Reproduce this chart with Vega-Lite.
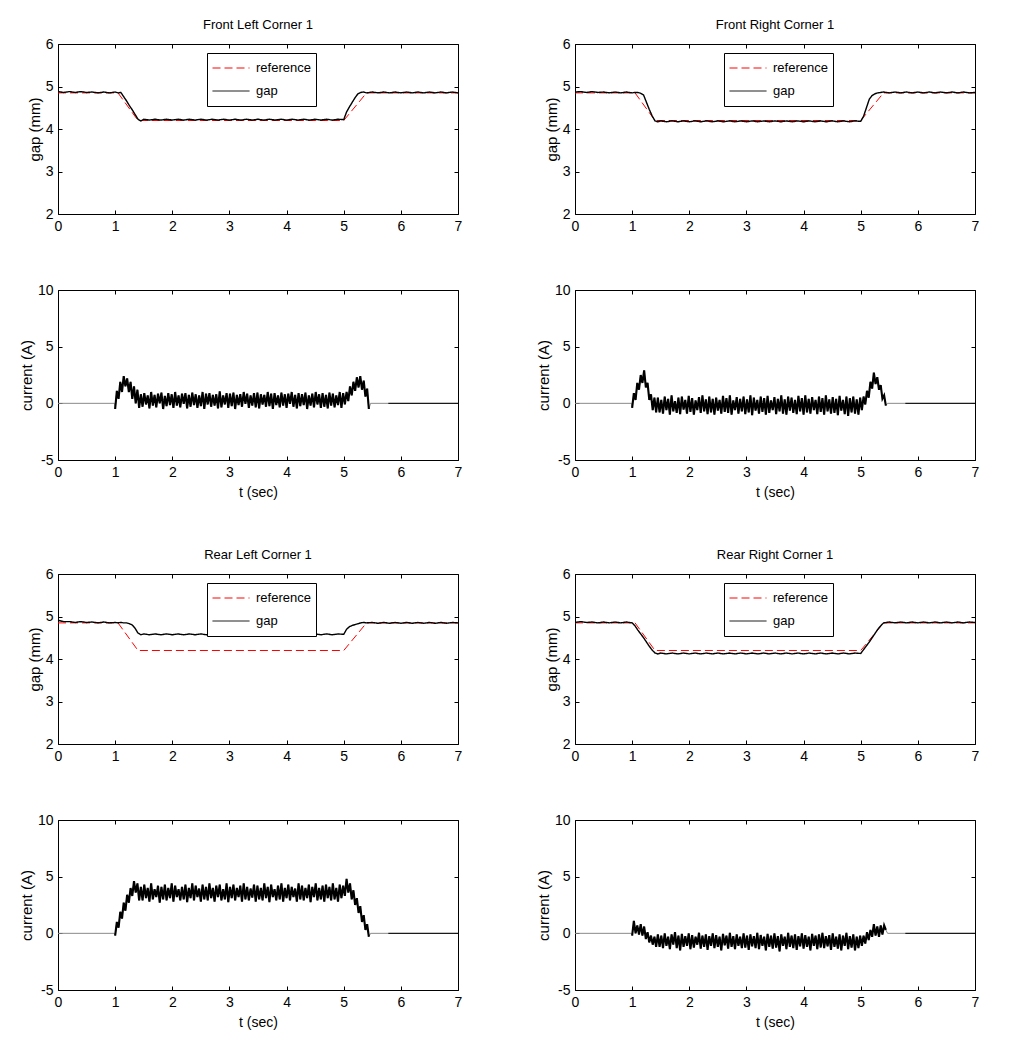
{
"$schema": "https://vega.github.io/schema/vega-lite/v6.json",
"padding": {"left": 18, "top": 18, "right": 5, "bottom": 5},
"columns": 2,
"spacing": {"row": 48, "column": 72},
"align": "each",
"resolve": {"scale": {"color": "independent", "strokeDash": "independent"}},
"datasets": {
"ref": [{"t":0,"r":4.85},{"t":1.05,"r":4.85},{"t":1.4,"r":4.2},{"t":5.0,"r":4.2},{"t":5.4,"r":4.85},{"t":7,"r":4.85}],
"gap": [
{"t":0,"FL":4.88,"FR":4.87,"RL":4.91,"RR":4.86},
{"t":0.1,"FL":4.86,"FR":4.88,"RL":4.88,"RR":4.88},
{"t":0.2,"FL":4.88,"FR":4.86,"RL":4.88,"RR":4.86},
{"t":0.3,"FL":4.86,"FR":4.88,"RL":4.86,"RR":4.87},
{"t":0.4,"FL":4.88,"FR":4.86,"RL":4.88,"RR":4.85},
{"t":0.5,"FL":4.86,"FR":4.87,"RL":4.86,"RR":4.87},
{"t":0.6,"FL":4.87,"FR":4.85,"RL":4.87,"RR":4.85},
{"t":0.7,"FL":4.85,"FR":4.87,"RL":4.85,"RR":4.87},
{"t":0.8,"FL":4.87,"FR":4.85,"RL":4.87,"RR":4.85},
{"t":0.9,"FL":4.85,"FR":4.87,"RL":4.85,"RR":4.87},
{"t":1.0,"FL":4.87,"FR":4.85,"RL":4.86,"RR":4.85},
{"t":1.05,"FL":4.85,"FR":4.86,"RL":4.85,"RR":4.78},
{"t":1.1,"FL":4.86,"FR":4.86,"RL":4.86,"RR":4.68},
{"t":1.15,"FL":4.76,"FR":4.84,"RL":4.85,"RR":4.59},
{"t":1.2,"FL":4.66,"FR":4.8,"RL":4.85,"RR":4.5},
{"t":1.25,"FL":4.55,"FR":4.63,"RL":4.83,"RR":4.4},
{"t":1.3,"FL":4.45,"FR":4.46,"RL":4.8,"RR":4.3},
{"t":1.35,"FL":4.34,"FR":4.31,"RL":4.72,"RR":4.21},
{"t":1.4,"FL":4.23,"FR":4.19,"RL":4.61,"RR":4.14},
{"t":1.45,"FL":4.19,"FR":4.17,"RL":4.57,"RR":4.12},
{"t":1.5,"FL":4.23,"FR":4.19,"RL":4.59,"RR":4.14},
{"t":1.6,"FL":4.21,"FR":4.17,"RL":4.57,"RR":4.12},
{"t":1.7,"FL":4.23,"FR":4.19,"RL":4.59,"RR":4.14},
{"t":1.8,"FL":4.21,"FR":4.17,"RL":4.57,"RR":4.12},
{"t":1.9,"FL":4.23,"FR":4.19,"RL":4.59,"RR":4.14},
{"t":2.0,"FL":4.21,"FR":4.17,"RL":4.57,"RR":4.12},
{"t":2.1,"FL":4.23,"FR":4.19,"RL":4.59,"RR":4.14},
{"t":2.2,"FL":4.21,"FR":4.17,"RL":4.57,"RR":4.12},
{"t":2.3,"FL":4.23,"FR":4.19,"RL":4.59,"RR":4.14},
{"t":2.4,"FL":4.21,"FR":4.17,"RL":4.57,"RR":4.12},
{"t":2.5,"FL":4.23,"FR":4.19,"RL":4.59,"RR":4.14},
{"t":2.6,"FL":4.21,"FR":4.17,"RL":4.57,"RR":4.12},
{"t":2.7,"FL":4.23,"FR":4.19,"RL":4.59,"RR":4.14},
{"t":2.8,"FL":4.21,"FR":4.17,"RL":4.57,"RR":4.12},
{"t":2.9,"FL":4.23,"FR":4.19,"RL":4.59,"RR":4.14},
{"t":3.0,"FL":4.21,"FR":4.17,"RL":4.57,"RR":4.12},
{"t":3.1,"FL":4.23,"FR":4.19,"RL":4.59,"RR":4.14},
{"t":3.2,"FL":4.21,"FR":4.17,"RL":4.57,"RR":4.12},
{"t":3.3,"FL":4.23,"FR":4.19,"RL":4.59,"RR":4.14},
{"t":3.4,"FL":4.21,"FR":4.17,"RL":4.57,"RR":4.12},
{"t":3.5,"FL":4.23,"FR":4.19,"RL":4.59,"RR":4.14},
{"t":3.6,"FL":4.21,"FR":4.17,"RL":4.57,"RR":4.12},
{"t":3.7,"FL":4.23,"FR":4.19,"RL":4.59,"RR":4.14},
{"t":3.8,"FL":4.21,"FR":4.17,"RL":4.57,"RR":4.12},
{"t":3.9,"FL":4.23,"FR":4.19,"RL":4.59,"RR":4.14},
{"t":4.0,"FL":4.21,"FR":4.17,"RL":4.57,"RR":4.12},
{"t":4.1,"FL":4.23,"FR":4.19,"RL":4.59,"RR":4.14},
{"t":4.2,"FL":4.21,"FR":4.17,"RL":4.57,"RR":4.12},
{"t":4.3,"FL":4.23,"FR":4.19,"RL":4.59,"RR":4.14},
{"t":4.4,"FL":4.21,"FR":4.17,"RL":4.57,"RR":4.12},
{"t":4.5,"FL":4.23,"FR":4.19,"RL":4.59,"RR":4.14},
{"t":4.6,"FL":4.21,"FR":4.17,"RL":4.57,"RR":4.12},
{"t":4.7,"FL":4.23,"FR":4.19,"RL":4.59,"RR":4.14},
{"t":4.8,"FL":4.21,"FR":4.17,"RL":4.57,"RR":4.12},
{"t":4.9,"FL":4.23,"FR":4.19,"RL":4.59,"RR":4.14},
{"t":5.0,"FL":4.22,"FR":4.18,"RL":4.58,"RR":4.13},
{"t":5.05,"FL":4.4,"FR":4.3,"RL":4.7,"RR":4.22},
{"t":5.1,"FL":4.52,"FR":4.5,"RL":4.76,"RR":4.31},
{"t":5.15,"FL":4.63,"FR":4.7,"RL":4.79,"RR":4.4},
{"t":5.2,"FL":4.74,"FR":4.79,"RL":4.81,"RR":4.5},
{"t":5.25,"FL":4.83,"FR":4.83,"RL":4.83,"RR":4.6},
{"t":5.3,"FL":4.86,"FR":4.85,"RL":4.85,"RR":4.7},
{"t":5.35,"FL":4.87,"FR":4.86,"RL":4.86,"RR":4.78},
{"t":5.4,"FL":4.85,"FR":4.87,"RL":4.85,"RR":4.85},
{"t":5.5,"FL":4.87,"FR":4.85,"RL":4.86,"RR":4.87},
{"t":5.6,"FL":4.85,"FR":4.87,"RL":4.84,"RR":4.85},
{"t":5.7,"FL":4.87,"FR":4.85,"RL":4.86,"RR":4.87},
{"t":5.8,"FL":4.85,"FR":4.87,"RL":4.84,"RR":4.85},
{"t":5.9,"FL":4.87,"FR":4.85,"RL":4.86,"RR":4.87},
{"t":6.0,"FL":4.85,"FR":4.87,"RL":4.84,"RR":4.85},
{"t":6.1,"FL":4.87,"FR":4.85,"RL":4.86,"RR":4.87},
{"t":6.2,"FL":4.85,"FR":4.87,"RL":4.84,"RR":4.85},
{"t":6.3,"FL":4.87,"FR":4.85,"RL":4.86,"RR":4.87},
{"t":6.4,"FL":4.85,"FR":4.87,"RL":4.84,"RR":4.85},
{"t":6.5,"FL":4.87,"FR":4.85,"RL":4.86,"RR":4.87},
{"t":6.6,"FL":4.85,"FR":4.87,"RL":4.84,"RR":4.85},
{"t":6.7,"FL":4.87,"FR":4.85,"RL":4.86,"RR":4.87},
{"t":6.8,"FL":4.85,"FR":4.87,"RL":4.84,"RR":4.85},
{"t":6.9,"FL":4.87,"FR":4.85,"RL":4.86,"RR":4.87},
{"t":7.0,"FL":4.85,"FR":4.86,"RL":4.85,"RR":4.86}
],
"cur": [
{"t":0,"FL":0,"FR":0,"RL":0,"RR":0},
{"t":0.99,"FL":0,"FR":0,"RL":0,"RR":0},
{"t":1.0,"FL":-0.5,"FR":-0.4,"RL":-0.2,"RR":-0.2},
{"t":1.03,"FL":1.1,"FR":0.9,"RL":1.0,"RR":1.1},
{"t":1.06,"FL":0.4,"FR":0.3,"RL":0.5,"RR":0.0},
{"t":1.09,"FL":1.9,"FR":1.8,"RL":1.9,"RR":0.7},
{"t":1.12,"FL":1.0,"FR":1.2,"RL":1.3,"RR":-0.1},
{"t":1.15,"FL":2.4,"FR":2.5,"RL":2.7,"RR":0.8},
{"t":1.18,"FL":1.5,"FR":1.8,"RL":2.0,"RR":-0.2},
{"t":1.21,"FL":2.2,"FR":2.9,"RL":3.4,"RR":0.6},
{"t":1.24,"FL":1.0,"FR":1.4,"RL":2.7,"RR":-0.5},
{"t":1.27,"FL":1.9,"FR":1.8,"RL":4.0,"RR":0.1},
{"t":1.3,"FL":0.4,"FR":0.3,"RL":3.3,"RR":-0.8},
{"t":1.33,"FL":1.5,"FR":0.8,"RL":4.6,"RR":-0.2},
{"t":1.36,"FL":0.0,"FR":-0.6,"RL":3.6,"RR":-1.0},
{"t":1.39,"FL":1.2,"FR":0.5,"RL":4.4,"RR":-0.3},
{"t":1.42,"FL":-0.4,"FR":-0.8,"RL":2.9,"RR":-1.2},
{"t":1.45,"FL":0.8,"FR":0.5,"RL":4.1,"RR":-0.1},
{"t":1.48,"FL":-0.3,"FR":-0.8,"RL":2.9,"RR":-1.2},
{"t":1.51,"FL":0.9,"FR":0.3,"RL":4.3,"RR":-0.2},
{"t":1.54,"FL":-0.1,"FR":-0.9,"RL":3.1,"RR":-1.3},
{"t":1.57,"FL":0.7,"FR":0.6,"RL":4.0,"RR":0.0},
{"t":1.6,"FL":-0.45,"FR":-0.6,"RL":2.8,"RR":-1.1},
{"t":1.63,"FL":1.0,"FR":0.4,"RL":4.4,"RR":-0.3},
{"t":1.66,"FL":-0.2,"FR":-1.0,"RL":3.0,"RR":-1.4},
{"t":1.69,"FL":0.75,"FR":0.7,"RL":3.9,"RR":-0.1},
{"t":1.72,"FL":-0.35,"FR":-0.7,"RL":3.2,"RR":-1.0},
{"t":1.75,"FL":0.85,"FR":0.2,"RL":4.2,"RR":0.1},
{"t":1.78,"FL":0.0,"FR":-0.85,"RL":2.7,"RR":-1.3},
{"t":1.81,"FL":0.95,"FR":0.5,"RL":4.1,"RR":-0.2},
{"t":1.84,"FL":-0.5,"FR":-0.95,"RL":3.0,"RR":-1.5},
{"t":1.87,"FL":0.65,"FR":0.6,"RL":4.3,"RR":-0.05},
{"t":1.9,"FL":-0.25,"FR":-0.55,"RL":2.9,"RR":-1.2},
{"t":1.93,"FL":0.9,"FR":0.3,"RL":4.0,"RR":-0.25},
{"t":1.96,"FL":-0.15,"FR":-0.9,"RL":3.1,"RR":-1.1},
{"t":1.99,"FL":0.8,"FR":0.65,"RL":4.4,"RR":0.0},
{"t":2.02,"FL":-0.4,"FR":-0.75,"RL":2.8,"RR":-1.4},
{"t":2.05,"FL":1.0,"FR":0.45,"RL":4.2,"RR":-0.15},
{"t":2.08,"FL":-0.2,"FR":-1.0,"RL":3.2,"RR":-1.25},
{"t":2.11,"FL":0.7,"FR":0.25,"RL":3.9,"RR":-0.3},
{"t":2.14,"FL":-0.35,"FR":-0.6,"RL":2.9,"RR":-1.0},
{"t":2.17,"FL":0.85,"FR":0.55,"RL":4.1,"RR":0.05},
{"t":2.2,"FL":-0.05,"FR":-0.85,"RL":3.0,"RR":-1.35},
{"t":2.23,"FL":0.9,"FR":0.7,"RL":4.3,"RR":-0.2},
{"t":2.26,"FL":-0.45,"FR":-0.7,"RL":2.75,"RR":-1.2},
{"t":2.29,"FL":0.75,"FR":0.35,"RL":4.0,"RR":-0.1},
{"t":2.32,"FL":-0.3,"FR":-0.95,"RL":3.1,"RR":-1.45},
{"t":2.35,"FL":0.95,"FR":0.6,"RL":4.4,"RR":-0.25},
{"t":2.38,"FL":-0.15,"FR":-0.8,"RL":2.9,"RR":-1.1},
{"t":2.41,"FL":0.8,"FR":0.4,"RL":4.2,"RR":0.0},
{"t":2.44,"FL":-0.4,"FR":-1.0,"RL":3.2,"RR":-1.3},
{"t":2.47,"FL":0.7,"FR":0.5,"RL":3.95,"RR":-0.15},
{"t":2.5,"FL":-0.25,"FR":-0.65,"RL":2.8,"RR":-1.2},
{"t":2.53,"FL":1.0,"FR":0.3,"RL":4.3,"RR":-0.3},
{"t":2.56,"FL":-0.5,"FR":-0.9,"RL":3.0,"RR":-1.5},
{"t":2.59,"FL":0.85,"FR":0.65,"RL":4.1,"RR":-0.05},
{"t":2.62,"FL":-0.1,"FR":-0.75,"RL":2.9,"RR":-1.05},
{"t":2.65,"FL":0.9,"FR":0.45,"RL":4.4,"RR":-0.2},
{"t":2.68,"FL":-0.3,"FR":-0.85,"RL":3.1,"RR":-1.35},
{"t":2.71,"FL":0.75,"FR":0.7,"RL":4.0,"RR":0.05},
{"t":2.74,"FL":-0.2,"FR":-1.0,"RL":2.8,"RR":-1.2},
{"t":2.77,"FL":0.8,"FR":0.25,"RL":4.2,"RR":-0.25},
{"t":2.8,"FL":-0.45,"FR":-0.6,"RL":3.2,"RR":-1.4},
{"t":2.83,"FL":1.05,"FR":0.55,"RL":4.3,"RR":-0.1},
{"t":2.86,"FL":-0.35,"FR":-0.9,"RL":2.9,"RR":-1.1},
{"t":2.89,"FL":0.7,"FR":0.4,"RL":3.9,"RR":-0.3},
{"t":2.92,"FL":-0.1,"FR":-0.7,"RL":3.0,"RR":-1.3},
{"t":2.95,"FL":0.9,"FR":0.6,"RL":4.4,"RR":0.0},
{"t":2.98,"FL":-0.4,"FR":-0.95,"RL":2.75,"RR":-1.25},
{"t":3.01,"FL":0.85,"FR":0.35,"RL":4.1,"RR":-0.2},
{"t":3.04,"FL":-0.25,"FR":-0.8,"RL":3.1,"RR":-1.45},
{"t":3.07,"FL":0.95,"FR":0.7,"RL":4.3,"RR":-0.1},
{"t":3.1,"FL":-0.5,"FR":-1.05,"RL":2.9,"RR":-1.15},
{"t":3.13,"FL":0.75,"FR":0.5,"RL":4.0,"RR":-0.25},
{"t":3.16,"FL":-0.15,"FR":-0.65,"RL":3.2,"RR":-1.3},
{"t":3.19,"FL":0.8,"FR":0.3,"RL":4.2,"RR":0.05},
{"t":3.22,"FL":-0.3,"FR":-0.9,"RL":2.8,"RR":-1.4},
{"t":3.25,"FL":1.0,"FR":0.6,"RL":4.4,"RR":-0.15},
{"t":3.28,"FL":-0.05,"FR":-0.75,"RL":3.0,"RR":-1.1},
{"t":3.31,"FL":0.85,"FR":0.45,"RL":4.1,"RR":-0.3},
{"t":3.34,"FL":-0.4,"FR":-1.0,"RL":2.9,"RR":-1.5},
{"t":3.37,"FL":0.7,"FR":0.65,"RL":3.95,"RR":-0.05},
{"t":3.4,"FL":-0.2,"FR":-0.85,"RL":3.15,"RR":-1.2},
{"t":3.43,"FL":0.9,"FR":0.25,"RL":4.3,"RR":-0.2},
{"t":3.46,"FL":-0.35,"FR":-0.6,"RL":2.8,"RR":-1.35},
{"t":3.49,"FL":0.95,"FR":0.55,"RL":4.2,"RR":0.0},
{"t":3.52,"FL":-0.45,"FR":-0.95,"RL":3.0,"RR":-1.25},
{"t":3.55,"FL":0.8,"FR":0.4,"RL":4.0,"RR":-0.25},
{"t":3.58,"FL":-0.1,"FR":-0.7,"RL":2.9,"RR":-1.6},
{"t":3.61,"FL":0.75,"FR":0.7,"RL":4.4,"RR":-0.1},
{"t":3.64,"FL":-0.3,"FR":-0.9,"RL":3.1,"RR":-1.1},
{"t":3.67,"FL":1.0,"FR":0.35,"RL":4.1,"RR":-0.3},
{"t":3.7,"FL":-0.25,"FR":-1.0,"RL":2.75,"RR":-1.4},
{"t":3.73,"FL":0.85,"FR":0.6,"RL":4.3,"RR":0.05},
{"t":3.76,"FL":-0.5,"FR":-0.65,"RL":3.2,"RR":-1.2},
{"t":3.79,"FL":0.9,"FR":0.5,"RL":3.9,"RR":-0.2},
{"t":3.82,"FL":-0.15,"FR":-0.85,"RL":2.9,"RR":-1.3},
{"t":3.85,"FL":0.7,"FR":0.3,"RL":4.2,"RR":-0.1},
{"t":3.88,"FL":-0.35,"FR":-0.95,"RL":3.0,"RR":-1.45},
{"t":3.91,"FL":0.95,"FR":0.65,"RL":4.4,"RR":-0.25},
{"t":3.94,"FL":-0.2,"FR":-0.7,"RL":2.8,"RR":-1.15},
{"t":3.97,"FL":0.8,"FR":0.45,"RL":4.0,"RR":0.0},
{"t":4.0,"FL":-0.4,"FR":-1.0,"RL":3.1,"RR":-1.35},
{"t":4.03,"FL":0.85,"FR":0.7,"RL":4.3,"RR":-0.15},
{"t":4.06,"FL":-0.05,"FR":-0.8,"RL":2.9,"RR":-1.2},
{"t":4.09,"FL":1.0,"FR":0.4,"RL":4.1,"RR":-0.3},
{"t":4.12,"FL":-0.3,"FR":-0.9,"RL":3.2,"RR":-1.5},
{"t":4.15,"FL":0.75,"FR":0.55,"RL":3.95,"RR":-0.05},
{"t":4.18,"FL":-0.45,"FR":-0.6,"RL":2.8,"RR":-1.1},
{"t":4.21,"FL":0.9,"FR":0.3,"RL":4.4,"RR":-0.2},
{"t":4.24,"FL":-0.25,"FR":-0.95,"RL":3.0,"RR":-1.4},
{"t":4.27,"FL":0.8,"FR":0.6,"RL":4.2,"RR":-0.1},
{"t":4.3,"FL":-0.15,"FR":-0.75,"RL":2.9,"RR":-1.25},
{"t":4.33,"FL":0.95,"FR":0.45,"RL":4.0,"RR":0.05},
{"t":4.36,"FL":-0.5,"FR":-1.0,"RL":3.1,"RR":-1.3},
{"t":4.39,"FL":0.7,"FR":0.7,"RL":4.3,"RR":-0.25},
{"t":4.42,"FL":-0.2,"FR":-0.7,"RL":2.75,"RR":-1.15},
{"t":4.45,"FL":0.85,"FR":0.35,"RL":4.1,"RR":-0.15},
{"t":4.48,"FL":-0.35,"FR":-0.9,"RL":3.2,"RR":-1.45},
{"t":4.51,"FL":1.0,"FR":0.55,"RL":4.4,"RR":0.0},
{"t":4.54,"FL":-0.1,"FR":-0.85,"RL":2.9,"RR":-1.2},
{"t":4.57,"FL":0.8,"FR":0.4,"RL":4.0,"RR":-0.3},
{"t":4.6,"FL":-0.4,"FR":-1.05,"RL":3.0,"RR":-1.35},
{"t":4.63,"FL":0.9,"FR":0.65,"RL":4.2,"RR":-0.1},
{"t":4.66,"FL":-0.3,"FR":-0.65,"RL":2.8,"RR":-1.5},
{"t":4.69,"FL":0.75,"FR":0.3,"RL":4.3,"RR":-0.2},
{"t":4.72,"FL":-0.45,"FR":-0.95,"RL":3.1,"RR":-1.1},
{"t":4.75,"FL":0.95,"FR":0.6,"RL":4.1,"RR":0.05},
{"t":4.78,"FL":-0.2,"FR":-1.1,"RL":2.9,"RR":-1.4},
{"t":4.81,"FL":0.85,"FR":0.45,"RL":4.4,"RR":-0.25},
{"t":4.84,"FL":-0.35,"FR":-0.8,"RL":3.0,"RR":-1.25},
{"t":4.87,"FL":0.7,"FR":0.6,"RL":4.0,"RR":-0.1},
{"t":4.9,"FL":-0.15,"FR":-0.9,"RL":2.8,"RR":-1.5},
{"t":4.93,"FL":1.0,"FR":0.35,"RL":4.3,"RR":-0.3},
{"t":4.96,"FL":-0.4,"FR":-1.0,"RL":3.1,"RR":-1.3},
{"t":4.99,"FL":0.9,"FR":0.5,"RL":4.2,"RR":-0.2},
{"t":5.02,"FL":-0.1,"FR":-0.6,"RL":3.3,"RR":-1.1},
{"t":5.05,"FL":1.0,"FR":0.6,"RL":4.8,"RR":-0.2},
{"t":5.08,"FL":0.2,"FR":-0.1,"RL":3.6,"RR":-0.9},
{"t":5.11,"FL":1.5,"FR":1.1,"RL":4.4,"RR":0.1},
{"t":5.14,"FL":0.7,"FR":0.5,"RL":3.0,"RR":-0.6},
{"t":5.17,"FL":1.9,"FR":1.9,"RL":3.8,"RR":0.3},
{"t":5.2,"FL":1.1,"FR":1.3,"RL":2.5,"RR":-0.3},
{"t":5.23,"FL":2.3,"FR":2.7,"RL":3.1,"RR":0.8},
{"t":5.26,"FL":1.4,"FR":1.7,"RL":1.8,"RR":-0.2},
{"t":5.29,"FL":2.4,"FR":2.3,"RL":2.4,"RR":0.6},
{"t":5.32,"FL":1.2,"FR":1.2,"RL":1.0,"RR":-0.3},
{"t":5.35,"FL":2.0,"FR":1.6,"RL":1.6,"RR":0.7},
{"t":5.38,"FL":0.6,"FR":0.4,"RL":0.3,"RR":-0.1},
{"t":5.41,"FL":1.3,"FR":0.7,"RL":0.8,"RR":0.7},
{"t":5.44,"FL":-0.5,"FR":-0.2,"RL":-0.3,"RR":0.3},
{"t":5.47,"FL":0,"FR":0,"RL":0,"RR":0},
{"t":5.78,"FL":0,"FR":0,"RL":0,"RR":0},
{"t":7.0,"FL":0,"FR":0,"RL":0,"RR":0}
]
},
"concat": [
{"width":400,"height":170,"title":"Front Left Corner 1",
 "layer":[
  {"data":{"name":"ref"},"mark":{"type":"line","strokeWidth":1},
   "encoding":{
    "x":{"field":"t","type":"quantitative","scale":{"domain":[0,7],"nice":false},"axis":{"orient":"bottom","title":null,"values":[0,1,2,3,4,5,6,7]}},
    "y":{"field":"r","type":"quantitative","scale":{"domain":[2,6],"nice":false},"axis":{"orient":"left","title":"gap (mm)","values":[2,3,4,5,6]}},
    "color":{"datum":"reference","scale":{"domain":["reference","gap"],"range":["#ff0000","#000000"]}},
    "strokeDash":{"datum":"reference","scale":{"domain":["reference","gap"],"range":[[8,4],[1,0]]}}}},
  {"data":{"name":"gap"},"mark":{"type":"line","strokeWidth":1.4},
   "encoding":{
    "x":{"field":"t","type":"quantitative","axis":{"orient":"top","labels":false,"title":null,"values":[0,1,2,3,4,5,6,7]}},
    "y":{"field":"FL","type":"quantitative","axis":{"orient":"right","labels":false,"title":null,"values":[2,3,4,5,6]}},
    "color":{"datum":"gap"},"strokeDash":{"datum":"gap"}}}
 ],
 "resolve":{"axis":{"x":"independent","y":"independent"}}},
{"width":400,"height":170,"title":"Front Right Corner 1",
 "layer":[
  {"data":{"name":"ref"},"mark":{"type":"line","strokeWidth":1},
   "encoding":{
    "x":{"field":"t","type":"quantitative","scale":{"domain":[0,7],"nice":false},"axis":{"orient":"bottom","title":null,"values":[0,1,2,3,4,5,6,7]}},
    "y":{"field":"r","type":"quantitative","scale":{"domain":[2,6],"nice":false},"axis":{"orient":"left","title":"gap (mm)","values":[2,3,4,5,6]}},
    "color":{"datum":"reference","scale":{"domain":["reference","gap"],"range":["#ff0000","#000000"]}},
    "strokeDash":{"datum":"reference","scale":{"domain":["reference","gap"],"range":[[8,4],[1,0]]}}}},
  {"data":{"name":"gap"},"mark":{"type":"line","strokeWidth":1.4},
   "encoding":{
    "x":{"field":"t","type":"quantitative","axis":{"orient":"top","labels":false,"title":null,"values":[0,1,2,3,4,5,6,7]}},
    "y":{"field":"FR","type":"quantitative","axis":{"orient":"right","labels":false,"title":null,"values":[2,3,4,5,6]}},
    "color":{"datum":"gap"},"strokeDash":{"datum":"gap"}}}
 ],
 "resolve":{"axis":{"x":"independent","y":"independent"}}},
{"width":400,"height":170,"data":{"name":"cur"},
 "layer":[
  {"mark":{"type":"line","color":"#8a8a8a","strokeWidth":1},
   "encoding":{
    "x":{"field":"t","type":"quantitative","scale":{"domain":[0,7],"nice":false},"axis":{"orient":"bottom","title":"t (sec)","values":[0,1,2,3,4,5,6,7]}},
    "y":{"field":"FL","type":"quantitative","scale":{"domain":[-5,10],"nice":false},"axis":{"orient":"left","title":"current (A)","values":[-5,0,5,10],"labelExpr":"'' + datum.value"}}}},
  {"transform":[{"filter":"datum.t >= 0.995 && datum.t <= 5.445"}],
   "mark":{"type":"line","color":"#000000","strokeWidth":2.1},
   "encoding":{
    "x":{"field":"t","type":"quantitative","axis":{"orient":"top","labels":false,"title":null,"values":[0,1,2,3,4,5,6,7]}},
    "y":{"field":"FL","type":"quantitative","axis":{"orient":"right","labels":false,"title":null,"values":[-5,0,5,10]}}}},
  {"transform":[{"filter":"datum.t >= 5.77"}],
   "mark":{"type":"line","color":"#000000","strokeWidth":1},
   "encoding":{"x":{"field":"t","type":"quantitative","axis":null},"y":{"field":"FL","type":"quantitative","axis":null}}}
 ],
 "resolve":{"axis":{"x":"independent","y":"independent"}}},
{"width":400,"height":170,"data":{"name":"cur"},
 "layer":[
  {"mark":{"type":"line","color":"#8a8a8a","strokeWidth":1},
   "encoding":{
    "x":{"field":"t","type":"quantitative","scale":{"domain":[0,7],"nice":false},"axis":{"orient":"bottom","title":"t (sec)","values":[0,1,2,3,4,5,6,7]}},
    "y":{"field":"FR","type":"quantitative","scale":{"domain":[-5,10],"nice":false},"axis":{"orient":"left","title":"current (A)","values":[-5,0,5,10],"labelExpr":"'' + datum.value"}}}},
  {"transform":[{"filter":"datum.t >= 0.995 && datum.t <= 5.445"}],
   "mark":{"type":"line","color":"#000000","strokeWidth":2.1},
   "encoding":{
    "x":{"field":"t","type":"quantitative","axis":{"orient":"top","labels":false,"title":null,"values":[0,1,2,3,4,5,6,7]}},
    "y":{"field":"FR","type":"quantitative","axis":{"orient":"right","labels":false,"title":null,"values":[-5,0,5,10]}}}},
  {"transform":[{"filter":"datum.t >= 5.77"}],
   "mark":{"type":"line","color":"#000000","strokeWidth":1},
   "encoding":{"x":{"field":"t","type":"quantitative","axis":null},"y":{"field":"FR","type":"quantitative","axis":null}}}
 ],
 "resolve":{"axis":{"x":"independent","y":"independent"}}},
{"width":400,"height":170,"title":"Rear Left Corner 1",
 "layer":[
  {"data":{"name":"ref"},"mark":{"type":"line","strokeWidth":1},
   "encoding":{
    "x":{"field":"t","type":"quantitative","scale":{"domain":[0,7],"nice":false},"axis":{"orient":"bottom","title":null,"values":[0,1,2,3,4,5,6,7]}},
    "y":{"field":"r","type":"quantitative","scale":{"domain":[2,6],"nice":false},"axis":{"orient":"left","title":"gap (mm)","values":[2,3,4,5,6]}},
    "color":{"datum":"reference","scale":{"domain":["reference","gap"],"range":["#ff0000","#000000"]}},
    "strokeDash":{"datum":"reference","scale":{"domain":["reference","gap"],"range":[[8,4],[1,0]]}}}},
  {"data":{"name":"gap"},"mark":{"type":"line","strokeWidth":1.4},
   "encoding":{
    "x":{"field":"t","type":"quantitative","axis":{"orient":"top","labels":false,"title":null,"values":[0,1,2,3,4,5,6,7]}},
    "y":{"field":"RL","type":"quantitative","axis":{"orient":"right","labels":false,"title":null,"values":[2,3,4,5,6]}},
    "color":{"datum":"gap"},"strokeDash":{"datum":"gap"}}}
 ],
 "resolve":{"axis":{"x":"independent","y":"independent"}}},
{"width":400,"height":170,"title":"Rear Right Corner 1",
 "layer":[
  {"data":{"name":"ref"},"mark":{"type":"line","strokeWidth":1},
   "encoding":{
    "x":{"field":"t","type":"quantitative","scale":{"domain":[0,7],"nice":false},"axis":{"orient":"bottom","title":null,"values":[0,1,2,3,4,5,6,7]}},
    "y":{"field":"r","type":"quantitative","scale":{"domain":[2,6],"nice":false},"axis":{"orient":"left","title":"gap (mm)","values":[2,3,4,5,6]}},
    "color":{"datum":"reference","scale":{"domain":["reference","gap"],"range":["#ff0000","#000000"]}},
    "strokeDash":{"datum":"reference","scale":{"domain":["reference","gap"],"range":[[8,4],[1,0]]}}}},
  {"data":{"name":"gap"},"mark":{"type":"line","strokeWidth":1.4},
   "encoding":{
    "x":{"field":"t","type":"quantitative","axis":{"orient":"top","labels":false,"title":null,"values":[0,1,2,3,4,5,6,7]}},
    "y":{"field":"RR","type":"quantitative","axis":{"orient":"right","labels":false,"title":null,"values":[2,3,4,5,6]}},
    "color":{"datum":"gap"},"strokeDash":{"datum":"gap"}}}
 ],
 "resolve":{"axis":{"x":"independent","y":"independent"}}},
{"width":400,"height":170,"data":{"name":"cur"},
 "layer":[
  {"mark":{"type":"line","color":"#8a8a8a","strokeWidth":1},
   "encoding":{
    "x":{"field":"t","type":"quantitative","scale":{"domain":[0,7],"nice":false},"axis":{"orient":"bottom","title":"t (sec)","values":[0,1,2,3,4,5,6,7]}},
    "y":{"field":"RL","type":"quantitative","scale":{"domain":[-5,10],"nice":false},"axis":{"orient":"left","title":"current (A)","values":[-5,0,5,10],"labelExpr":"'' + datum.value"}}}},
  {"transform":[{"filter":"datum.t >= 0.995 && datum.t <= 5.445"}],
   "mark":{"type":"line","color":"#000000","strokeWidth":2.1},
   "encoding":{
    "x":{"field":"t","type":"quantitative","axis":{"orient":"top","labels":false,"title":null,"values":[0,1,2,3,4,5,6,7]}},
    "y":{"field":"RL","type":"quantitative","axis":{"orient":"right","labels":false,"title":null,"values":[-5,0,5,10]}}}},
  {"transform":[{"filter":"datum.t >= 5.77"}],
   "mark":{"type":"line","color":"#000000","strokeWidth":1},
   "encoding":{"x":{"field":"t","type":"quantitative","axis":null},"y":{"field":"RL","type":"quantitative","axis":null}}}
 ],
 "resolve":{"axis":{"x":"independent","y":"independent"}}},
{"width":400,"height":170,"data":{"name":"cur"},
 "layer":[
  {"mark":{"type":"line","color":"#8a8a8a","strokeWidth":1},
   "encoding":{
    "x":{"field":"t","type":"quantitative","scale":{"domain":[0,7],"nice":false},"axis":{"orient":"bottom","title":"t (sec)","values":[0,1,2,3,4,5,6,7]}},
    "y":{"field":"RR","type":"quantitative","scale":{"domain":[-5,10],"nice":false},"axis":{"orient":"left","title":"current (A)","values":[-5,0,5,10],"labelExpr":"'' + datum.value"}}}},
  {"transform":[{"filter":"datum.t >= 0.995 && datum.t <= 5.445"}],
   "mark":{"type":"line","color":"#000000","strokeWidth":2.1},
   "encoding":{
    "x":{"field":"t","type":"quantitative","axis":{"orient":"top","labels":false,"title":null,"values":[0,1,2,3,4,5,6,7]}},
    "y":{"field":"RR","type":"quantitative","axis":{"orient":"right","labels":false,"title":null,"values":[-5,0,5,10]}}}},
  {"transform":[{"filter":"datum.t >= 5.77"}],
   "mark":{"type":"line","color":"#000000","strokeWidth":1},
   "encoding":{"x":{"field":"t","type":"quantitative","axis":null},"y":{"field":"RR","type":"quantitative","axis":null}}}
 ],
 "resolve":{"axis":{"x":"independent","y":"independent"}}}
],
"config": {
 "background": "#ffffff",
 "view": {"stroke": "#000000", "strokeWidth": 1},
 "axis": {"domain": false, "grid": false, "ticks": true, "tickSize": -4, "tickColor": "#000000", "tickWidth": 1,
   "labelColor": "#000000", "labelFont": "Liberation Sans", "labelFontSize": 14, "labelPadding": 9,
   "labelFlush": false, "labelOverlap": false, "labelBound": false,
   "titleFont": "Liberation Sans", "titleFontSize": 15, "titleFontWeight": "normal", "titleColor": "#000000"},
 "axisX": {"titlePadding": 6, "titleFontSize": 14},
 "axisY": {"titlePadding": 3},
 "title": {"font": "Liberation Sans", "fontSize": 13, "fontWeight": "normal", "color": "#000000", "offset": 5, "anchor": "middle"},
 "legend": {"orient": "none", "legendX": 149, "legendY": 9, "title": null, "fillColor": "#ffffff", "strokeColor": "#000000",
   "padding": 5, "symbolType": "stroke", "symbolSize": 1369, "symbolStrokeWidth": 1, "clipHeight": 20, "rowPadding": 3,
   "labelFont": "Liberation Sans", "labelFontSize": 13, "labelOffset": 6, "labelColor": "#000000", "cornerRadius": 0}
}
}
